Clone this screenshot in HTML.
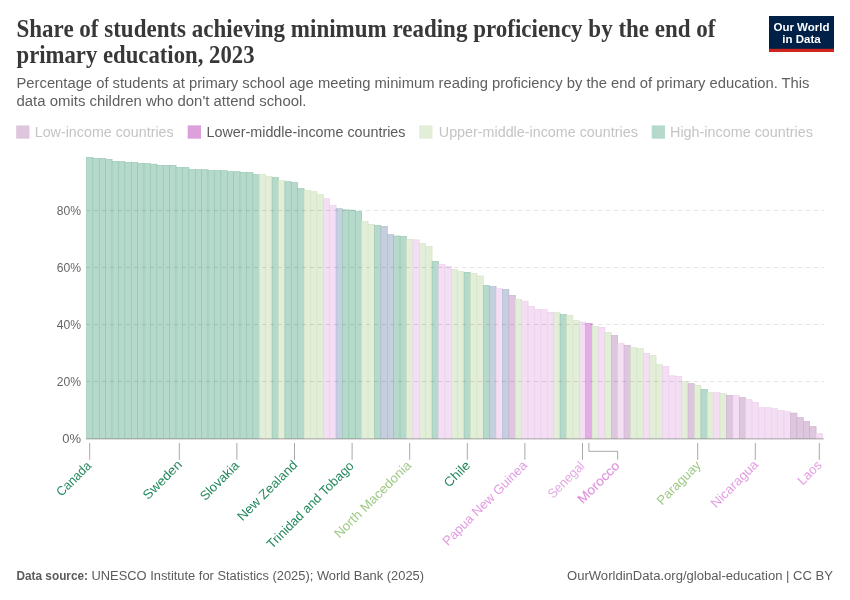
<!DOCTYPE html><html><head><meta charset="utf-8"><style>html,body{margin:0;padding:0;background:#fff;width:850px;height:600px;overflow:hidden}svg{display:block;will-change:transform}</style></head><body>
<svg width="850" height="600" viewBox="0 0 850 600">
<rect width="850" height="600" fill="#fff"/>
<text font-family='"Liberation Serif", serif' font-weight="bold" font-size="25" fill="#383838"><tspan x="16.5" y="37" textLength="699" lengthAdjust="spacingAndGlyphs">Share of students achieving minimum reading proficiency by the end of</tspan><tspan x="16.5" y="62.5" textLength="238" lengthAdjust="spacingAndGlyphs">primary education, 2023</tspan></text>
<text font-family='"Liberation Sans", sans-serif' font-size="14" fill="#5e5e5e"><tspan x="16.5" y="88.4" textLength="793" lengthAdjust="spacingAndGlyphs">Percentage of students at primary school age meeting minimum reading proficiency by the end of primary education. This</tspan><tspan x="16.5" y="106" textLength="290" lengthAdjust="spacingAndGlyphs">data omits children who don't attend school.</tspan></text>
<rect x="769" y="16" width="65" height="36" fill="#002147"/>
<rect x="769" y="48.8" width="65" height="3.2" fill="#ce261e"/>
<text font-family='"Liberation Sans", sans-serif' font-weight="bold" font-size="11.5" fill="#fff" text-anchor="middle"><tspan x="801.5" y="30.5">Our World</tspan><tspan x="801.5" y="42.5">in Data</tspan></text>
<rect x="16.2" y="125.4" width="13.3" height="13.3" fill="#dec7de"/>
<text x="34.7" y="136.8" font-family='"Liberation Sans", sans-serif' font-size="14" fill="#c4c4c4" textLength="139" lengthAdjust="spacingAndGlyphs">Low-income countries</text>
<rect x="187.7" y="125.4" width="13.3" height="13.3" fill="#dda0dd"/>
<text x="206.5" y="136.8" font-family='"Liberation Sans", sans-serif' font-size="14" fill="#5b5b5b" textLength="199" lengthAdjust="spacingAndGlyphs">Lower-middle-income countries</text>
<rect x="419.2" y="125.4" width="13.3" height="13.3" fill="#e3eed8"/>
<text x="438.8" y="136.8" font-family='"Liberation Sans", sans-serif' font-size="14" fill="#c4c4c4" textLength="199" lengthAdjust="spacingAndGlyphs">Upper-middle-income countries</text>
<rect x="651.7" y="125.4" width="13.3" height="13.3" fill="#b5d9ca"/>
<text x="670" y="136.8" font-family='"Liberation Sans", sans-serif' font-size="14" fill="#c4c4c4" textLength="143" lengthAdjust="spacingAndGlyphs">High-income countries</text>
<text x="81" y="442.9" font-family='"Liberation Sans", sans-serif' font-size="13" fill="#666" text-anchor="end">0%</text>
<text x="81" y="385.9" font-family='"Liberation Sans", sans-serif' font-size="13" fill="#666" text-anchor="end" textLength="24.3" lengthAdjust="spacingAndGlyphs">20%</text>
<text x="81" y="328.9" font-family='"Liberation Sans", sans-serif' font-size="13" fill="#666" text-anchor="end" textLength="24.3" lengthAdjust="spacingAndGlyphs">40%</text>
<text x="81" y="271.9" font-family='"Liberation Sans", sans-serif' font-size="13" fill="#666" text-anchor="end" textLength="24.3" lengthAdjust="spacingAndGlyphs">60%</text>
<text x="81" y="214.9" font-family='"Liberation Sans", sans-serif' font-size="13" fill="#666" text-anchor="end" textLength="24.3" lengthAdjust="spacingAndGlyphs">80%</text>
<rect x="86.50" y="157.40" width="6.40" height="281.10" fill="#b5d9ca" stroke="#94c5b0" stroke-width="0.6"/>
<rect x="92.90" y="158.40" width="6.40" height="280.10" fill="#b5d9ca" stroke="#94c5b0" stroke-width="0.6"/>
<rect x="99.30" y="158.40" width="6.40" height="280.10" fill="#b5d9ca" stroke="#94c5b0" stroke-width="0.6"/>
<rect x="105.70" y="159.40" width="6.40" height="279.10" fill="#b5d9ca" stroke="#94c5b0" stroke-width="0.6"/>
<rect x="112.10" y="161.40" width="6.40" height="277.10" fill="#b5d9ca" stroke="#94c5b0" stroke-width="0.6"/>
<rect x="118.50" y="161.60" width="6.40" height="276.90" fill="#b5d9ca" stroke="#94c5b0" stroke-width="0.6"/>
<rect x="124.90" y="162.40" width="6.40" height="276.10" fill="#b5d9ca" stroke="#94c5b0" stroke-width="0.6"/>
<rect x="131.30" y="162.40" width="6.40" height="276.10" fill="#b5d9ca" stroke="#94c5b0" stroke-width="0.6"/>
<rect x="137.70" y="163.50" width="6.40" height="275.00" fill="#b5d9ca" stroke="#94c5b0" stroke-width="0.6"/>
<rect x="144.10" y="163.60" width="6.40" height="274.90" fill="#b5d9ca" stroke="#94c5b0" stroke-width="0.6"/>
<rect x="150.50" y="164.20" width="6.40" height="274.30" fill="#b5d9ca" stroke="#94c5b0" stroke-width="0.6"/>
<rect x="156.90" y="165.40" width="6.40" height="273.10" fill="#b5d9ca" stroke="#94c5b0" stroke-width="0.6"/>
<rect x="163.30" y="165.40" width="6.40" height="273.10" fill="#b5d9ca" stroke="#94c5b0" stroke-width="0.6"/>
<rect x="169.70" y="165.40" width="6.40" height="273.10" fill="#b5d9ca" stroke="#94c5b0" stroke-width="0.6"/>
<rect x="176.10" y="167.50" width="6.40" height="271.00" fill="#b5d9ca" stroke="#94c5b0" stroke-width="0.6"/>
<rect x="182.50" y="167.50" width="6.40" height="271.00" fill="#b5d9ca" stroke="#94c5b0" stroke-width="0.6"/>
<rect x="188.90" y="169.60" width="6.40" height="268.90" fill="#b5d9ca" stroke="#94c5b0" stroke-width="0.6"/>
<rect x="195.30" y="169.70" width="6.40" height="268.80" fill="#b5d9ca" stroke="#94c5b0" stroke-width="0.6"/>
<rect x="201.70" y="169.70" width="6.40" height="268.80" fill="#b5d9ca" stroke="#94c5b0" stroke-width="0.6"/>
<rect x="208.10" y="170.60" width="6.40" height="267.90" fill="#b5d9ca" stroke="#94c5b0" stroke-width="0.6"/>
<rect x="214.50" y="170.60" width="6.40" height="267.90" fill="#b5d9ca" stroke="#94c5b0" stroke-width="0.6"/>
<rect x="220.90" y="170.70" width="6.40" height="267.80" fill="#b5d9ca" stroke="#94c5b0" stroke-width="0.6"/>
<rect x="227.30" y="171.70" width="6.40" height="266.80" fill="#b5d9ca" stroke="#94c5b0" stroke-width="0.6"/>
<rect x="233.70" y="171.70" width="6.40" height="266.80" fill="#b5d9ca" stroke="#94c5b0" stroke-width="0.6"/>
<rect x="240.10" y="172.50" width="6.40" height="266.00" fill="#b5d9ca" stroke="#94c5b0" stroke-width="0.6"/>
<rect x="246.50" y="172.50" width="6.40" height="266.00" fill="#b5d9ca" stroke="#94c5b0" stroke-width="0.6"/>
<rect x="252.90" y="174.60" width="6.40" height="263.90" fill="#b5d9ca" stroke="#94c5b0" stroke-width="0.6"/>
<rect x="259.30" y="174.60" width="6.40" height="263.90" fill="#e3eed8" stroke="#d3e3c3" stroke-width="0.6"/>
<rect x="265.70" y="176.70" width="6.40" height="261.80" fill="#e3eed8" stroke="#d3e3c3" stroke-width="0.6"/>
<rect x="272.10" y="177.60" width="6.40" height="260.90" fill="#b5d9ca" stroke="#94c5b0" stroke-width="0.6"/>
<rect x="278.50" y="180.70" width="6.40" height="257.80" fill="#e3eed8" stroke="#d3e3c3" stroke-width="0.6"/>
<rect x="284.90" y="181.70" width="6.40" height="256.80" fill="#b5d9ca" stroke="#94c5b0" stroke-width="0.6"/>
<rect x="291.30" y="182.60" width="6.40" height="255.90" fill="#b5d9ca" stroke="#94c5b0" stroke-width="0.6"/>
<rect x="297.70" y="188.50" width="6.40" height="250.00" fill="#b5d9ca" stroke="#94c5b0" stroke-width="0.6"/>
<rect x="304.10" y="190.60" width="6.40" height="247.90" fill="#e3eed8" stroke="#d3e3c3" stroke-width="0.6"/>
<rect x="310.50" y="191.60" width="6.40" height="246.90" fill="#e3eed8" stroke="#d3e3c3" stroke-width="0.6"/>
<rect x="316.90" y="194.50" width="6.40" height="244.00" fill="#e3eed8" stroke="#d3e3c3" stroke-width="0.6"/>
<rect x="323.30" y="198.70" width="6.40" height="239.80" fill="#f4def4" stroke="#ebcdeb" stroke-width="0.6"/>
<rect x="329.70" y="205.50" width="6.40" height="233.00" fill="#f4def4" stroke="#ebcdeb" stroke-width="0.6"/>
<rect x="336.10" y="208.70" width="6.40" height="229.80" fill="#c6cfe0" stroke="#aab6cf" stroke-width="0.6"/>
<rect x="342.50" y="209.80" width="6.40" height="228.70" fill="#b5d9ca" stroke="#94c5b0" stroke-width="0.6"/>
<rect x="348.90" y="210.10" width="6.40" height="228.40" fill="#b5d9ca" stroke="#94c5b0" stroke-width="0.6"/>
<rect x="355.30" y="211.50" width="6.40" height="227.00" fill="#b5d9ca" stroke="#94c5b0" stroke-width="0.6"/>
<rect x="361.70" y="221.50" width="6.40" height="217.00" fill="#e3eed8" stroke="#d3e3c3" stroke-width="0.6"/>
<rect x="368.10" y="224.30" width="6.40" height="214.20" fill="#e3eed8" stroke="#d3e3c3" stroke-width="0.6"/>
<rect x="374.50" y="225.50" width="6.40" height="213.00" fill="#b5d9ca" stroke="#94c5b0" stroke-width="0.6"/>
<rect x="380.90" y="226.50" width="6.40" height="212.00" fill="#c6cfe0" stroke="#aab6cf" stroke-width="0.6"/>
<rect x="387.30" y="234.60" width="6.40" height="203.90" fill="#c6cfe0" stroke="#aab6cf" stroke-width="0.6"/>
<rect x="393.70" y="236.00" width="6.40" height="202.50" fill="#b5d9ca" stroke="#94c5b0" stroke-width="0.6"/>
<rect x="400.10" y="236.50" width="6.40" height="202.00" fill="#b5d9ca" stroke="#94c5b0" stroke-width="0.6"/>
<rect x="406.50" y="239.50" width="6.40" height="199.00" fill="#e3eed8" stroke="#d3e3c3" stroke-width="0.6"/>
<rect x="412.90" y="239.90" width="6.40" height="198.60" fill="#f4def4" stroke="#ebcdeb" stroke-width="0.6"/>
<rect x="419.30" y="243.50" width="6.40" height="195.00" fill="#e3eed8" stroke="#d3e3c3" stroke-width="0.6"/>
<rect x="425.70" y="246.50" width="6.40" height="192.00" fill="#e3eed8" stroke="#d3e3c3" stroke-width="0.6"/>
<rect x="432.10" y="261.50" width="6.40" height="177.00" fill="#b5d9ca" stroke="#94c5b0" stroke-width="0.6"/>
<rect x="438.50" y="264.50" width="6.40" height="174.00" fill="#f4def4" stroke="#ebcdeb" stroke-width="0.6"/>
<rect x="444.90" y="266.50" width="6.40" height="172.00" fill="#f4def4" stroke="#ebcdeb" stroke-width="0.6"/>
<rect x="451.30" y="269.50" width="6.40" height="169.00" fill="#e3eed8" stroke="#d3e3c3" stroke-width="0.6"/>
<rect x="457.70" y="271.70" width="6.40" height="166.80" fill="#e3eed8" stroke="#d3e3c3" stroke-width="0.6"/>
<rect x="464.10" y="272.40" width="6.40" height="166.10" fill="#b5d9ca" stroke="#94c5b0" stroke-width="0.6"/>
<rect x="470.50" y="273.50" width="6.40" height="165.00" fill="#e3eed8" stroke="#d3e3c3" stroke-width="0.6"/>
<rect x="476.90" y="276.00" width="6.40" height="162.50" fill="#e3eed8" stroke="#d3e3c3" stroke-width="0.6"/>
<rect x="483.30" y="285.50" width="6.40" height="153.00" fill="#b5d9ca" stroke="#94c5b0" stroke-width="0.6"/>
<rect x="489.70" y="286.50" width="6.40" height="152.00" fill="#c6cfe0" stroke="#aab6cf" stroke-width="0.6"/>
<rect x="496.10" y="288.70" width="6.40" height="149.80" fill="#f4def4" stroke="#ebcdeb" stroke-width="0.6"/>
<rect x="502.50" y="289.50" width="6.40" height="149.00" fill="#c6cfe0" stroke="#aab6cf" stroke-width="0.6"/>
<rect x="508.90" y="295.30" width="6.40" height="143.20" fill="#dec7de" stroke="#cdaccd" stroke-width="0.6"/>
<rect x="515.30" y="299.50" width="6.40" height="139.00" fill="#e3eed8" stroke="#d3e3c3" stroke-width="0.6"/>
<rect x="521.70" y="301.20" width="6.40" height="137.30" fill="#f4def4" stroke="#ebcdeb" stroke-width="0.6"/>
<rect x="528.10" y="306.50" width="6.40" height="132.00" fill="#f4def4" stroke="#ebcdeb" stroke-width="0.6"/>
<rect x="534.50" y="309.50" width="6.40" height="129.00" fill="#f4def4" stroke="#ebcdeb" stroke-width="0.6"/>
<rect x="540.90" y="309.70" width="6.40" height="128.80" fill="#f4def4" stroke="#ebcdeb" stroke-width="0.6"/>
<rect x="547.30" y="312.30" width="6.40" height="126.20" fill="#f4def4" stroke="#ebcdeb" stroke-width="0.6"/>
<rect x="553.70" y="312.70" width="6.40" height="125.80" fill="#e3eed8" stroke="#d3e3c3" stroke-width="0.6"/>
<rect x="560.10" y="314.50" width="6.40" height="124.00" fill="#b5d9ca" stroke="#94c5b0" stroke-width="0.6"/>
<rect x="566.50" y="315.30" width="6.40" height="123.20" fill="#e3eed8" stroke="#d3e3c3" stroke-width="0.6"/>
<rect x="572.90" y="320.70" width="6.40" height="117.80" fill="#e3eed8" stroke="#d3e3c3" stroke-width="0.6"/>
<rect x="579.30" y="322.00" width="6.40" height="116.50" fill="#f4def4" stroke="#ebcdeb" stroke-width="0.6"/>
<rect x="585.70" y="323.30" width="6.40" height="115.20" fill="#e3aee3" stroke="#d692d6" stroke-width="0.6"/>
<rect x="592.10" y="326.50" width="6.40" height="112.00" fill="#e3eed8" stroke="#d3e3c3" stroke-width="0.6"/>
<rect x="598.50" y="327.50" width="6.40" height="111.00" fill="#f4def4" stroke="#ebcdeb" stroke-width="0.6"/>
<rect x="604.90" y="332.50" width="6.40" height="106.00" fill="#e3eed8" stroke="#d3e3c3" stroke-width="0.6"/>
<rect x="611.30" y="335.50" width="6.40" height="103.00" fill="#dec7de" stroke="#cdaccd" stroke-width="0.6"/>
<rect x="617.70" y="343.50" width="6.40" height="95.00" fill="#f4def4" stroke="#ebcdeb" stroke-width="0.6"/>
<rect x="624.10" y="345.30" width="6.40" height="93.20" fill="#dec7de" stroke="#cdaccd" stroke-width="0.6"/>
<rect x="630.50" y="347.70" width="6.40" height="90.80" fill="#e3eed8" stroke="#d3e3c3" stroke-width="0.6"/>
<rect x="636.90" y="348.50" width="6.40" height="90.00" fill="#e3eed8" stroke="#d3e3c3" stroke-width="0.6"/>
<rect x="643.30" y="353.30" width="6.40" height="85.20" fill="#f4def4" stroke="#ebcdeb" stroke-width="0.6"/>
<rect x="649.70" y="355.50" width="6.40" height="83.00" fill="#e3eed8" stroke="#d3e3c3" stroke-width="0.6"/>
<rect x="656.10" y="364.70" width="6.40" height="73.80" fill="#e3eed8" stroke="#d3e3c3" stroke-width="0.6"/>
<rect x="662.50" y="366.50" width="6.40" height="72.00" fill="#f4def4" stroke="#ebcdeb" stroke-width="0.6"/>
<rect x="668.90" y="375.80" width="6.40" height="62.70" fill="#f4def4" stroke="#ebcdeb" stroke-width="0.6"/>
<rect x="675.30" y="376.50" width="6.40" height="62.00" fill="#f4def4" stroke="#ebcdeb" stroke-width="0.6"/>
<rect x="681.70" y="381.70" width="6.40" height="56.80" fill="#e3eed8" stroke="#d3e3c3" stroke-width="0.6"/>
<rect x="688.10" y="383.70" width="6.40" height="54.80" fill="#dec7de" stroke="#cdaccd" stroke-width="0.6"/>
<rect x="694.50" y="385.50" width="6.40" height="53.00" fill="#e3eed8" stroke="#d3e3c3" stroke-width="0.6"/>
<rect x="700.90" y="389.50" width="6.40" height="49.00" fill="#b5d9ca" stroke="#94c5b0" stroke-width="0.6"/>
<rect x="707.30" y="392.50" width="6.40" height="46.00" fill="#e3eed8" stroke="#d3e3c3" stroke-width="0.6"/>
<rect x="713.70" y="392.60" width="6.40" height="45.90" fill="#f4def4" stroke="#ebcdeb" stroke-width="0.6"/>
<rect x="720.10" y="393.70" width="6.40" height="44.80" fill="#e3eed8" stroke="#d3e3c3" stroke-width="0.6"/>
<rect x="726.50" y="395.50" width="6.40" height="43.00" fill="#dec7de" stroke="#cdaccd" stroke-width="0.6"/>
<rect x="732.90" y="395.70" width="6.40" height="42.80" fill="#f4def4" stroke="#ebcdeb" stroke-width="0.6"/>
<rect x="739.30" y="397.70" width="6.40" height="40.80" fill="#dec7de" stroke="#cdaccd" stroke-width="0.6"/>
<rect x="745.70" y="399.70" width="6.40" height="38.80" fill="#f4def4" stroke="#ebcdeb" stroke-width="0.6"/>
<rect x="752.10" y="402.30" width="6.40" height="36.20" fill="#f4def4" stroke="#ebcdeb" stroke-width="0.6"/>
<rect x="758.50" y="407.70" width="6.40" height="30.80" fill="#f4def4" stroke="#ebcdeb" stroke-width="0.6"/>
<rect x="764.90" y="407.70" width="6.40" height="30.80" fill="#f4def4" stroke="#ebcdeb" stroke-width="0.6"/>
<rect x="771.30" y="408.70" width="6.40" height="29.80" fill="#f4def4" stroke="#ebcdeb" stroke-width="0.6"/>
<rect x="777.70" y="410.50" width="6.40" height="28.00" fill="#f4def4" stroke="#ebcdeb" stroke-width="0.6"/>
<rect x="784.10" y="411.70" width="6.40" height="26.80" fill="#f4def4" stroke="#ebcdeb" stroke-width="0.6"/>
<rect x="790.50" y="413.10" width="6.40" height="25.40" fill="#dec7de" stroke="#cdaccd" stroke-width="0.6"/>
<rect x="796.90" y="417.60" width="6.40" height="20.90" fill="#dec7de" stroke="#cdaccd" stroke-width="0.6"/>
<rect x="803.30" y="421.60" width="6.40" height="16.90" fill="#dec7de" stroke="#cdaccd" stroke-width="0.6"/>
<rect x="809.70" y="426.60" width="6.40" height="11.90" fill="#dec7de" stroke="#cdaccd" stroke-width="0.6"/>
<rect x="816.10" y="433.60" width="6.40" height="4.90" fill="#f4def4" stroke="#ebcdeb" stroke-width="0.6"/>
<line x1="86" y1="381.5" x2="824" y2="381.5" stroke="#000" stroke-opacity="0.1" stroke-width="1" stroke-dasharray="4.5,3.5"/>
<line x1="86" y1="324.5" x2="824" y2="324.5" stroke="#000" stroke-opacity="0.1" stroke-width="1" stroke-dasharray="4.5,3.5"/>
<line x1="86" y1="267.5" x2="824" y2="267.5" stroke="#000" stroke-opacity="0.1" stroke-width="1" stroke-dasharray="4.5,3.5"/>
<line x1="86" y1="210.5" x2="824" y2="210.5" stroke="#000" stroke-opacity="0.1" stroke-width="1" stroke-dasharray="4.5,3.5"/>
<line x1="86" y1="438.9" x2="823.8" y2="438.9" stroke="#8c8c8c" stroke-opacity="0.75" stroke-width="1"/>
<line x1="89.7" y1="443" x2="89.7" y2="459.8" stroke="#a8a8a8" stroke-width="1"/>
<line x1="179.3" y1="443" x2="179.3" y2="459.8" stroke="#a8a8a8" stroke-width="1"/>
<line x1="236.9" y1="443" x2="236.9" y2="459.8" stroke="#a8a8a8" stroke-width="1"/>
<line x1="294.5" y1="443" x2="294.5" y2="459.8" stroke="#a8a8a8" stroke-width="1"/>
<line x1="352.1" y1="443" x2="352.1" y2="459.8" stroke="#a8a8a8" stroke-width="1"/>
<line x1="409.7" y1="443" x2="409.7" y2="459.8" stroke="#a8a8a8" stroke-width="1"/>
<line x1="467.3" y1="443" x2="467.3" y2="459.8" stroke="#a8a8a8" stroke-width="1"/>
<line x1="524.9" y1="443" x2="524.9" y2="459.8" stroke="#a8a8a8" stroke-width="1"/>
<line x1="582.5" y1="443" x2="582.5" y2="459.8" stroke="#a8a8a8" stroke-width="1"/>
<line x1="697.7" y1="443" x2="697.7" y2="459.8" stroke="#a8a8a8" stroke-width="1"/>
<line x1="755.3" y1="443" x2="755.3" y2="459.8" stroke="#a8a8a8" stroke-width="1"/>
<line x1="819.3" y1="443" x2="819.3" y2="459.8" stroke="#a8a8a8" stroke-width="1"/>
<text transform="translate(92.00,466.60) rotate(-45)" font-family='"Liberation Sans", sans-serif' font-size="13" fill="#25885c" text-anchor="end" textLength="43.13" lengthAdjust="spacingAndGlyphs">Canada</text>
<text transform="translate(182.80,465.50) rotate(-45)" font-family='"Liberation Sans", sans-serif' font-size="13" fill="#25885c" text-anchor="end" textLength="49.15" lengthAdjust="spacingAndGlyphs">Sweden</text>
<text transform="translate(239.90,466.40) rotate(-45)" font-family='"Liberation Sans", sans-serif' font-size="13" fill="#25885c" text-anchor="end" textLength="49.14" lengthAdjust="spacingAndGlyphs">Slovakia</text>
<text transform="translate(298.30,465.70) rotate(-45)" font-family='"Liberation Sans", sans-serif' font-size="13" fill="#25885c" text-anchor="end" textLength="79.03" lengthAdjust="spacingAndGlyphs">New Zealand</text>
<text transform="translate(354.60,466.70) rotate(-45)" font-family='"Liberation Sans", sans-serif' font-size="13" fill="#25885c" text-anchor="end" textLength="116.67" lengthAdjust="spacingAndGlyphs">Trinidad and Tobago</text>
<text transform="translate(412.10,466.10) rotate(-45)" font-family='"Liberation Sans", sans-serif' font-size="13" fill="#9fca85" text-anchor="end" textLength="102.82" lengthAdjust="spacingAndGlyphs">North Macedonia</text>
<text transform="translate(471.00,466.10) rotate(-45)" font-family='"Liberation Sans", sans-serif' font-size="13" fill="#25885c" text-anchor="end" textLength="31.03" lengthAdjust="spacingAndGlyphs">Chile</text>
<text transform="translate(528.00,466.10) rotate(-45)" font-family='"Liberation Sans", sans-serif' font-size="13" fill="#e39be3" text-anchor="end" textLength="113.51" lengthAdjust="spacingAndGlyphs">Papua New Guinea</text>
<text transform="translate(585.30,466.70) rotate(-45)" font-family='"Liberation Sans", sans-serif' font-size="13" fill="#e5a9e5" text-anchor="end" textLength="45.68" lengthAdjust="spacingAndGlyphs">Senegal</text>
<text transform="translate(701.60,466.00) rotate(-45)" font-family='"Liberation Sans", sans-serif' font-size="13" fill="#9fca85" text-anchor="end" textLength="56.17" lengthAdjust="spacingAndGlyphs">Paraguay</text>
<text transform="translate(758.90,465.60) rotate(-45)" font-family='"Liberation Sans", sans-serif' font-size="13" fill="#e39be3" text-anchor="end" textLength="60.79" lengthAdjust="spacingAndGlyphs">Nicaragua</text>
<text transform="translate(822.45,466.00) rotate(-45)" font-family='"Liberation Sans", sans-serif' font-size="13" fill="#e39be3" text-anchor="end" textLength="27.95" lengthAdjust="spacingAndGlyphs">Laos</text>
<text transform="translate(620.40,466.60) rotate(-45)" font-family='"Liberation Sans", sans-serif' font-size="13" stroke="#de94de" stroke-width="0.15" fill="#de94de" text-anchor="end" textLength="53.15" lengthAdjust="spacingAndGlyphs">Morocco</text>
<polyline points="588.9,443 588.9,451.3 617.7,451.3 617.7,459.8" fill="none" stroke="#a8a8a8" stroke-width="1"/>
<text x="16.5" y="580.2" font-family='"Liberation Sans", sans-serif' font-size="12" font-weight="bold" fill="#5b5b5b" textLength="71.5" lengthAdjust="spacingAndGlyphs">Data source:</text>
<text x="91.5" y="580.2" font-family='"Liberation Sans", sans-serif' font-size="12" fill="#5b5b5b" textLength="332.5" lengthAdjust="spacingAndGlyphs">UNESCO Institute for Statistics (2025); World Bank (2025)</text>
<text x="833" y="580.2" font-family='"Liberation Sans", sans-serif' font-size="12" fill="#5b5b5b" text-anchor="end" textLength="266" lengthAdjust="spacingAndGlyphs">OurWorldinData.org/global-education | CC BY</text>
</svg></body></html>
